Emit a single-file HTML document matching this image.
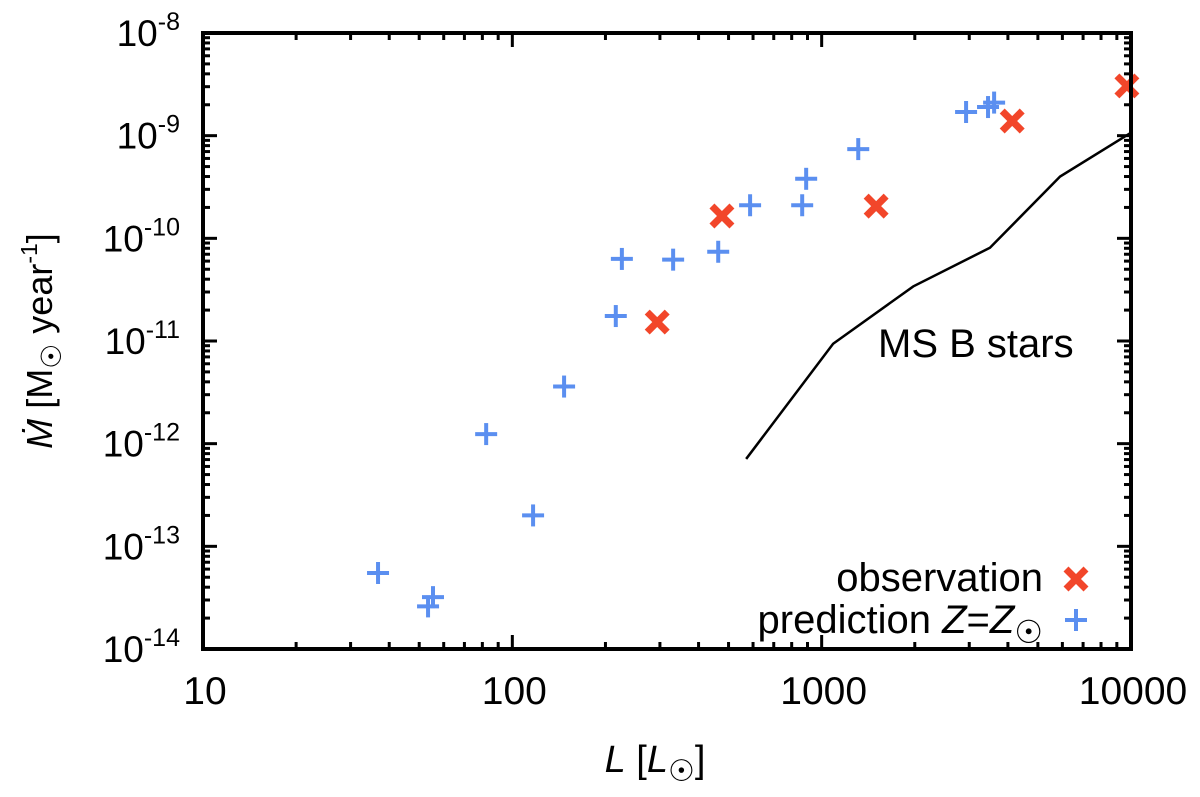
<!DOCTYPE html>
<html><head><meta charset="utf-8"><style>
body{margin:0;background:#fff}
svg text{font-family:"Liberation Sans","DejaVu Sans",sans-serif;fill:#000}
</style></head><body>
<svg id="c" width="1200" height="792" xmlns="http://www.w3.org/2000/svg">
<g id="ticks"></g>
<g id="marks"></g>
<rect x="203" y="33" width="928" height="616" fill="none" stroke="#000" stroke-width="4"/>
<text x="655" y="772" font-size="38" text-anchor="middle"><tspan font-style="italic">L</tspan> [<tspan font-style="italic">L</tspan><tspan font-size="30" dy="9">☉</tspan><tspan dy="-9">]</tspan></text>
<text transform="translate(52,341) rotate(-90)" font-size="36" text-anchor="middle"><tspan font-style="italic">Ṁ</tspan> [M<tspan font-size="28" dy="9">☉</tspan><tspan dy="-9"> year</tspan><tspan font-size="23" dy="-15">-1</tspan><tspan dy="15">]</tspan></text>
<text x="878" y="357" font-size="40">MS B stars</text>
<g>
<text x="1043" y="591" font-size="40" text-anchor="end">observation</text>
<text x="1043" y="633" font-size="40" text-anchor="end">prediction <tspan font-style="italic">Z</tspan>=<tspan font-style="italic">Z</tspan><tspan font-size="32" dy="10">☉</tspan></text>
</g>
</svg>
<script>
const xTicks=[10,100,1000,10000];
const xTickLabels=["10","100","1000","10000"];
const yExps=[-14,-13,-12,-11,-10,-9,-8];
const predL=[36.8,53.4,55.4,82.3,116.7,147,216,226,331,463,587,865,891,1313,2930,3450,3610];
const predM=[5.5e-14,2.6e-14,3.2e-14,1.24e-12,2.0e-13,3.6e-12,1.75e-11,6.3e-11,6.2e-11,7.4e-11,2.1e-10,2.1e-10,3.8e-10,7.4e-10,1.7e-9,1.9e-9,2.1e-9];
const obsL=[294,476,1500,4130,9700];
const obsM=[1.53e-11,1.65e-10,2.06e-10,1.39e-9,3.05e-9];
const msL=[570,1089,1977,3500,5900,10000];
const msM=[7.1e-13,9.4e-12,3.4e-11,8.1e-11,4.0e-10,1.07e-9];

const NS="http://www.w3.org/2000/svg";
const X0=203,X1=1131,Y0=649,Y1=33;
const xs=v=>X0+(Math.log10(v)-1)/3*(X1-X0);
const ys=v=>Y0-(Math.log10(v)+14)/6*(Y0-Y1);
function mk(tag,attrs,parent){const e=document.createElementNS(NS,tag);for(const k in attrs)e.setAttribute(k,attrs[k]);parent.appendChild(e);return e;}
const T=document.getElementById('ticks'),M=document.getElementById('marks');
for(let d=1;d<=4;d++){for(let m=1;m<=9;m++){const v=Math.pow(10,d)*m;if(v>10000)break;const x=xs(v);const len=m===1?14:7;
mk('line',{x1:x,x2:x,y1:Y0,y2:Y0-len,stroke:'#000','stroke-width':3},T);
mk('line',{x1:x,x2:x,y1:Y1,y2:Y1+len,stroke:'#000','stroke-width':3},T);}}
xTicks.forEach((v,i)=>{const t=mk('text',{x:xs(v)+2,y:704,'font-size':39,'text-anchor':'middle'},T);t.textContent=xTickLabels[i];

});
for(let e=-14;e<=-8;e++){for(let m=1;m<=9;m++){if(e===-8&&m>1)break;const v=m*Math.pow(10,e);const y=ys(v);const len=m===1?14:7;
mk('line',{x1:X0,x2:X0+len,y1:y,y2:y,stroke:'#000','stroke-width':3},T);
mk('line',{x1:X1,x2:X1-len,y1:y,y2:y,stroke:'#000','stroke-width':3},T);}}
yExps.forEach(e=>{const t=mk('text',{x:180,y:ys(Math.pow(10,e))+13,'font-size':37,'text-anchor':'end'},T);
t.innerHTML='10<tspan font-size="25" dy="-16">'+e+'</tspan>';

});
const pl=mk('polyline',{points:msL.map((v,i)=>xs(v)+','+ys(msM[i])).join(' '),fill:'none',stroke:'#000','stroke-width':2.5},M);


function plus(x,y,nm){const g=mk('g',{stroke:'#5b8ff0','stroke-width':4},M);
mk('line',{x1:x-11,x2:x+11,y1:y,y2:y},g);mk('line',{x1:x,x2:x,y1:y-11,y2:y+11},g);

}
function cross(x,y,nm){const g=mk('g',{stroke:'#f2462a','stroke-width':7},M);
mk('line',{x1:x-10,x2:x+10,y1:y-10,y2:y+10},g);mk('line',{x1:x-10,x2:x+10,y1:y+10,y2:y-10},g);

}
predL.forEach((v,i)=>plus(xs(v),ys(predM[i]),'prediction-point'));
obsL.forEach((v,i)=>cross(xs(v),ys(obsM[i]),'observation-point'));
cross(1076,579,'legend-observation-marker');
plus(1076,620,'legend-prediction-marker');
</script>
</body></html>
